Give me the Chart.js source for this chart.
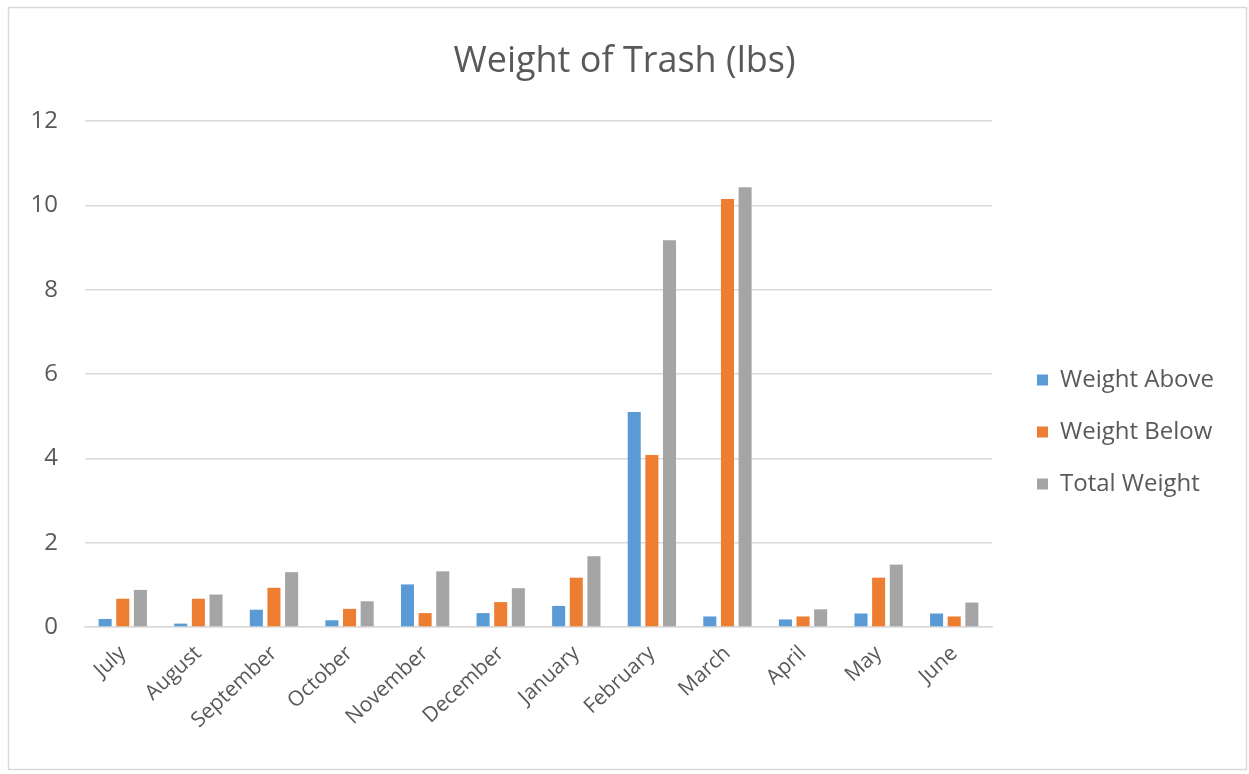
<!DOCTYPE html>
<html>
<head>
<meta charset="utf-8">
<title>Weight of Trash (lbs)</title>
<script src="https://cdn.jsdelivr.net/npm/chart.js@4.4.1/dist/chart.umd.min.js"></script>
<style>
  html, body { margin: 0; padding: 0; background: #ffffff; }
  canvas { display: block; }
</style>
</head>
<body>
<canvas id="chart" width="1249" height="774"></canvas>
<script>
// Monthly trash weights, July through June
const months = ['July', 'August', 'September', 'October', 'November', 'December',
                'January', 'February', 'March', 'April', 'May', 'June'];
const weightAbove = [0.19, 0.08, 0.41, 0.16, 1.01, 0.33, 0.50, 5.10, 0.25, 0.18, 0.32, 0.32];
const weightBelow = [0.67, 0.67, 0.93, 0.43, 0.33, 0.59, 1.17, 4.08, 10.15, 0.25, 1.17, 0.25];
const totalWeight = [0.88, 0.77, 1.30, 0.61, 1.32, 0.92, 1.68, 9.17, 10.43, 0.42, 1.48, 0.58];
const yTicks = [0, 2, 4, 6, 8, 10, 12];

const TEXT = '#595959';
const GRID = '#d9d9d9';
const FONT = "'Open Sans', 'Noto Sans', sans-serif";

// White card with a thin grey frame behind the chart
const framePlugin = {
  id: 'frame',
  beforeDraw(chart) {
    const ctx = chart.ctx;
    ctx.save();
    ctx.fillStyle = '#ffffff';
    ctx.fillRect(0, 0, chart.width, chart.height);
    ctx.strokeStyle = GRID;
    ctx.lineWidth = 1.5;
    ctx.strokeRect(8.5, 7.5, chart.width - 11, chart.height - 12);
    ctx.restore();
  }
};

// Fixed-width legend column, nudged right and down next to the plot
const legendPlacement = {
  id: 'legendPlacement',
  afterInit(chart) {
    const lg = chart.legend;
    if (!lg || lg._fixedFit) return;
    const fit = lg.fit;
    lg.fit = function () {
      fit.call(this);
      this.width = 257;
    };
    lg._fixedFit = true;
  },
  afterLayout(chart) {
    const lg = chart.legend;
    if (!lg) return;
    lg.left += 17;
    lg.top += 90;
  }
};

const common = { borderWidth: 0, categoryPercentage: 0.70, barPercentage: 0.74 };

new Chart(document.getElementById('chart'), {
  type: 'bar',
  data: {
    labels: months,
    datasets: [
      Object.assign({ label: 'Weight Above', data: weightAbove, backgroundColor: '#5b9bd5' }, common),
      Object.assign({ label: 'Weight Below', data: weightBelow, backgroundColor: '#ed7d31' }, common),
      Object.assign({ label: 'Total Weight', data: totalWeight, backgroundColor: '#a5a5a5' }, common)
    ]
  },
  options: {
    responsive: false,
    animation: false,
    layout: { padding: 0 },
    plugins: {
      title: {
        display: true,
        text: 'Weight of Trash (lbs)',
        color: TEXT,
        font: { family: FONT, size: 36, weight: 'normal', lineHeight: 1.2 },
        padding: { top: 40, bottom: 37.8 }
      },
      legend: {
        display: true,
        position: 'right',
        align: 'center',
        labels: {
          color: TEXT,
          font: { family: FONT, size: 24 },
          boxWidth: 11,
          boxHeight: 11,
          padding: 28
        }
      },
      tooltip: { enabled: false }
    },
    scales: {
      x: {
        grid: { display: false },
        border: { display: true, color: GRID, width: 1.5 },
        ticks: {
          color: TEXT,
          font: { family: FONT, size: 21 },
          minRotation: 43,
          maxRotation: 43,
          autoSkip: false,
          padding: 6
        },
        afterFit(scale) { scale.height = 147; }
      },
      y: {
        min: 0,
        max: 12,
        afterBuildTicks(scale) { scale.ticks = yTicks.map(v => ({ value: v })); },
        grid: { color: GRID, lineWidth: 1.5, drawTicks: false },
        border: { display: false },
        ticks: {
          color: TEXT,
          font: { family: FONT, size: 24 },
          padding: 27
        },
        afterFit(scale) { scale.width = 85; }
      }
    }
  },
  plugins: [framePlugin, legendPlacement]
});
</script>
</body>
</html>
